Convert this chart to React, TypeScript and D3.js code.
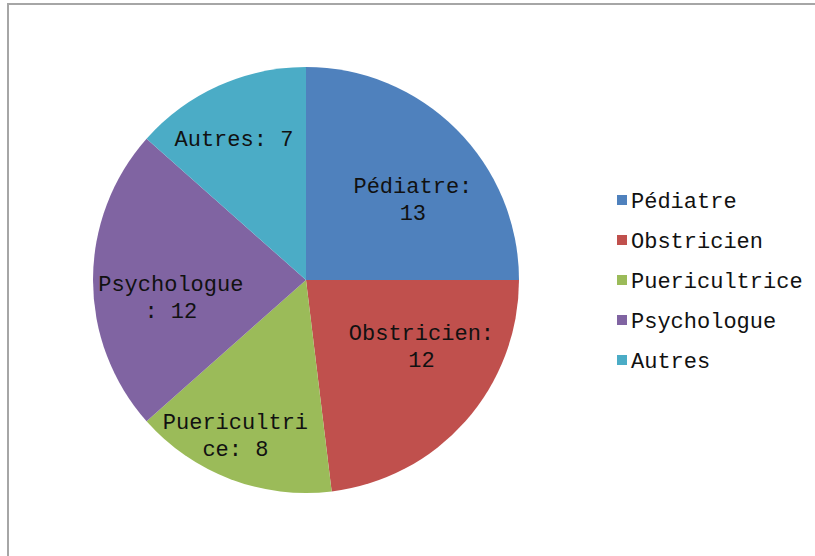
import * as d3 from 'd3';

const categories = ['Pédiatre', 'Obstricien', 'Puericultrice', 'Psychologue', 'Autres'];
const values = [13, 12, 8, 12, 7];
const colors = ['#4F81BD', '#C0504D', '#9BBB59', '#8064A2', '#4BACC6'];

// label placement tweaks (px), applied on top of the arc centroid
const labelNudge: [number, number][] = [
  [12, 15],
  [15, -21],
  [-23, 31],
  [-1, 18],
  [-17, -18],
];

const W = 815;
const H = 556;
const cx = 306;
const cy = 280;
const R = 213;
const FONT = '"Liberation Mono", "DejaVu Sans Mono", monospace';
const FS = 22;
const LINE = 27;
const MAX_CHARS = 11;

function wrap(text: string, max: number): string[] {
  const lines: string[] = [];
  let cur = '';
  text.split(' ').forEach((word) => {
    let w = word;
    const next = cur ? cur + ' ' + w : w;
    if (next.length <= max) {
      cur = next;
      return;
    }
    if (cur) lines.push(cur);
    cur = '';
    while (w.length > max) {
      lines.push(w.slice(0, max));
      w = w.slice(max);
    }
    cur = w;
  });
  if (cur) lines.push(cur);
  return lines;
}

export default function App() {
  const data = categories.map((name, i) => ({ name, value: values[i], color: colors[i] }));
  const pie = d3.pie<any>().sort(null).value((d) => d.value);
  const arcs = pie(data);
  const arc = d3.arc<any>().innerRadius(0).outerRadius(R);
  const labelArc = d3.arc<any>().innerRadius(R * 0.63).outerRadius(R * 0.63);

  return (
    <svg
      width={W}
      height={H}
      style={{ position: 'absolute', left: 0, top: 0, display: 'block', background: '#fff' }}
    >
      <rect x={8} y={4} width={W} height={H} fill="#fff" stroke="#a6a6a6" strokeWidth={2} />
      <g transform={`translate(${cx},${cy})`}>
        {arcs.map((a, i) => (
          <path key={i} d={arc(a) || ''} fill={a.data.color} />
        ))}
        {arcs.map((a, i) => {
          const [x, y] = labelArc.centroid(a);
          const lines = wrap(`${a.data.name}: ${a.data.value}`, MAX_CHARS);
          const lx = x + labelNudge[i][0];
          const ly = y + labelNudge[i][1];
          const top = ly - ((lines.length - 1) * LINE) / 2;
          return (
            <text
              key={i}
              x={lx}
              y={top}
              fontFamily={FONT}
              fontSize={FS}
              fill="#111"
              textAnchor="middle"
              dominantBaseline="central"
            >
              {lines.map((l, j) => (
                <tspan key={j} x={lx} y={top + j * LINE}>
                  {l}
                </tspan>
              ))}
            </text>
          );
        })}
      </g>
      <g transform="translate(617,200)">
        {data.map((d, i) => (
          <g key={i} transform={`translate(0,${i * 40})`}>
            <rect x={0} y={-5} width={10} height={10} fill={d.color} />
            <text x={14} y={0} dy="0.35em" fontFamily={FONT} fontSize={FS} fill="#111">
              {d.name}
            </text>
          </g>
        ))}
      </g>
    </svg>
  );
}
